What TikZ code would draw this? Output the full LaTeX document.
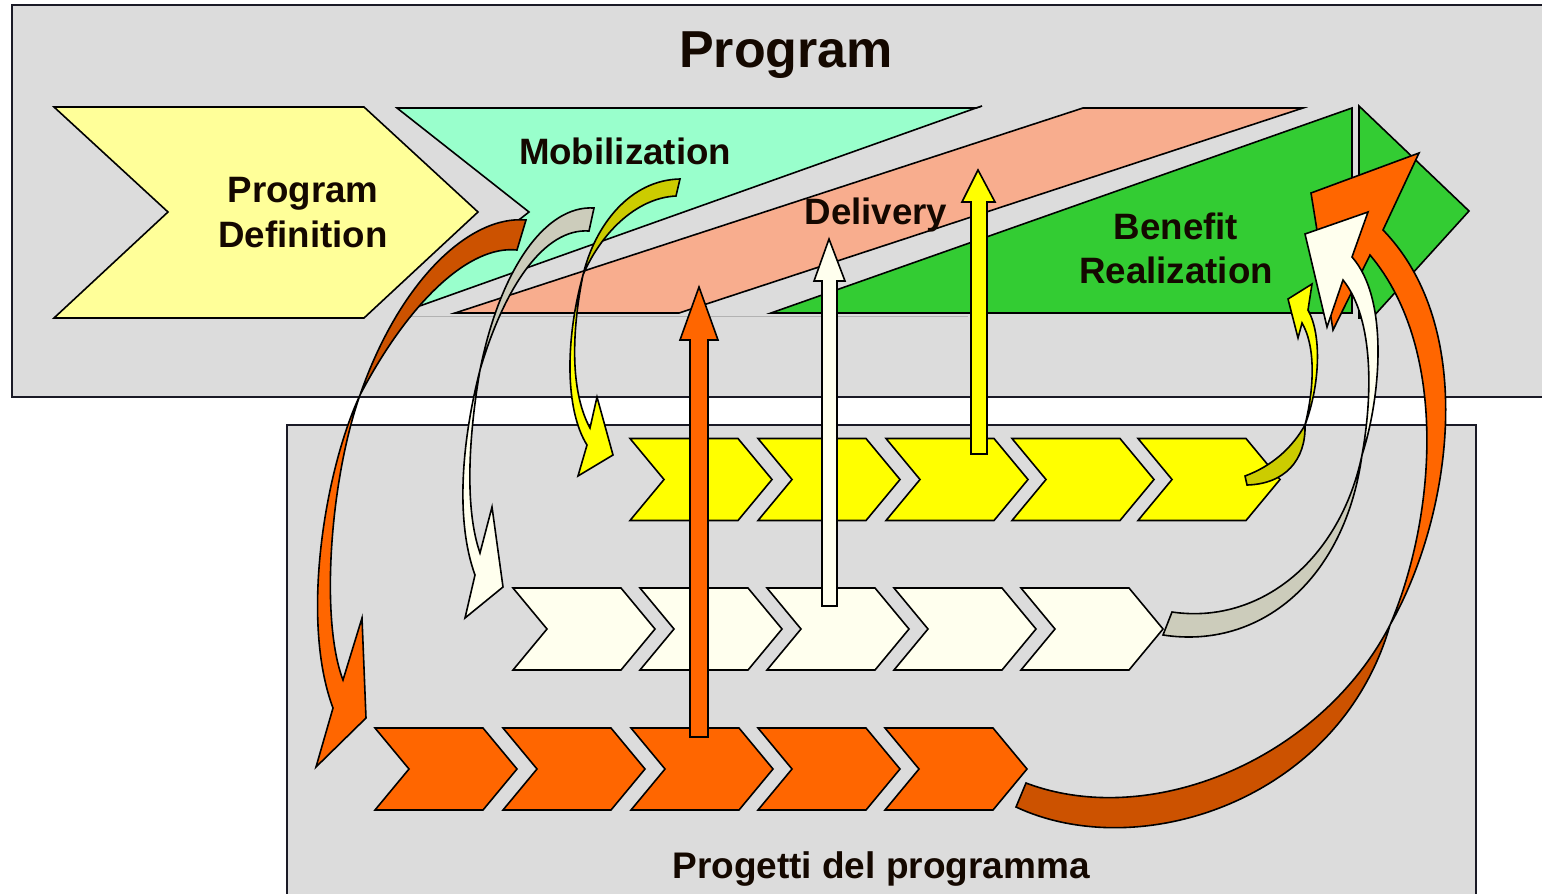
\documentclass[tikz,border=0pt]{standalone}
\usepackage{fontspec}
\setmainfont{Liberation Sans}
\definecolor{boxgray}{HTML}{DCDCDC}
\definecolor{boxline}{HTML}{1A1A26}
\definecolor{pdyellow}{HTML}{FFFF99}
\definecolor{mint}{HTML}{99FFCC}
\definecolor{salmon}{HTML}{F8AD8E}
\definecolor{brgreen}{HTML}{33CC33}
\definecolor{yel}{HTML}{FFFF00}
\definecolor{dyel}{HTML}{CCCC00}
\definecolor{offwhite}{HTML}{FFFFEE}
\definecolor{grayback}{HTML}{CCCCBB}
\definecolor{orng}{HTML}{FF6600}
\definecolor{dorng}{HTML}{CC5200}
\definecolor{txt}{HTML}{140800}
\newcommand{\mychev}[3]{\filldraw[fill=#3, bd] (#1,#2) -- ++(108,0) -- ++(34,41) -- ++(-34,41) -- ++(-108,0) -- ++(34,-41) -- cycle;}
\begin{document}
\begin{tikzpicture}[x=1pt,y=-1pt, line join=miter,
  bd/.style={draw=black, line width=1.6pt},
  lbl/.style={font=\fontsize{36.7}{44}\selectfont\bfseries, text=txt, anchor=base, inner sep=0pt},
  ttl/.style={font=\fontsize{52}{60}\selectfont\bfseries, text=txt, anchor=base, inner sep=0pt}]
\useasboundingbox (0,0) rectangle (1542,894);
\clip (0,0) rectangle (1542,894);
\fill[white] (0,0) rectangle (1542,894);
% boxes
\filldraw[fill=boxgray, draw=boxline, line width=1.8pt] (12,5) rectangle (1580,397);
\filldraw[fill=boxgray, draw=boxline, line width=1.8pt] (287,425) rectangle (1476,930);
\node[ttl] (title) at (786,67) {Program};
% phase chevrons
\filldraw[fill=pdyellow, bd] (54,107) -- (364,107) -- (478,212) -- (364,318) -- (54,318) -- (168,212) -- cycle;
\filldraw[fill=mint, bd] (397,108) -- (976,108) -- (400,313) -- (529,212) -- cycle;
\draw[bd] (976,108) -- (982,106);
\filldraw[fill=salmon, bd] (1083,108) -- (1303,108) -- (679,313) -- (455,313) -- cycle;
\filldraw[fill=brgreen, bd] (771,313) -- (1352,108) -- (1352,313) -- cycle;
\filldraw[fill=brgreen, bd] (1359,106) -- (1469,211) -- (1372,318) -- (1359,318) -- cycle;
\draw[gray!60, line width=1pt] (402,316.5) -- (968,316.5);
\node[lbl] (pd1) at (303,202) {Program};
\node[lbl] (pd2) at (303,247) {Definition};
\node[lbl] (mob) at (625,164) {Mobilization};
\node[lbl] (del) at (876,224) {Delivery};
\node[lbl] (ben1) at (1176,239) {Benefit};
\node[lbl] (ben2) at (1176,283) {Realization};
\node[lbl, font=\fontsize{37}{44}\selectfont\bfseries] (proj) at (881,878) {Progetti del programma};
% project rows
\foreach \x in {630,758,886,1012,1138} {\mychev{\x}{438.5}{yel}}
\foreach \x in {513,640,767,894,1021} {\mychev{\x}{588}{offwhite}}
\foreach \x in {375,503,631,758,885} {\mychev{\x}{728}{orng}}
% straight arrows
\filldraw[fill=orng, bd] (690,737) -- (690,340) -- (680,340) -- (699,287) -- (718,340) -- (708,340) -- (708,737) -- cycle;
\filldraw[fill=offwhite, bd] (822,606) -- (822,281) -- (814,281) -- (829,239) -- (845,281) -- (837,281) -- (837,606) -- cycle;
\filldraw[fill=yel, bd] (971,454) -- (971,202) -- (962,202) -- (978,170) -- (995,202) -- (987,202) -- (987,454) -- cycle;
% curved arrow: program definition -> orange row
\filldraw[fill=dorng, bd] (526,220) .. controls (470,215) and (400,280) .. (360,395) .. controls (410,300) and (470,245) .. (517,250) -- cycle;
\filldraw[fill=orng, bd] (360,395) .. controls (325,470) and (300,620) .. (333,708) -- (316,767) -- (366,718) -- (362,618) -- (343,680) .. controls (320,620) and (330,480) .. (360,395) -- cycle;
% curved arrow: mobilization -> white row
\filldraw[fill=grayback, bd] (594,208) .. controls (545,205) and (500,270) .. (480,370) .. controls (505,285) and (545,228) .. (589,231) -- cycle;
\filldraw[fill=offwhite, bd] (480,370) .. controls (462,440) and (455,520) .. (475,575) -- (465,618) -- (503,587) -- (492,507) -- (480,553) .. controls (465,510) and (468,440) .. (480,370) -- cycle;
% curved arrow: mobilization -> yellow row
\filldraw[fill=dyel, bd] (680,179) .. controls (630,180) and (595,225) .. (583,275) .. controls (600,235) and (635,198) .. (676,196) -- cycle;
\filldraw[fill=yel, bd] (583,275) .. controls (565,340) and (565,410) .. (587,445) -- (578,476) -- (613,455) -- (597,397) -- (590,428) .. controls (572,395) and (570,340) .. (583,275) -- cycle;
% curved arrow: orange row -> benefit
\filldraw[fill=dorng, bd] (1026,783) .. controls (1150,830) and (1320,760) .. (1390,625) .. controls (1340,800) and (1140,865) .. (1016,807) -- cycle;
\filldraw[fill=orng, bd] (1390,625) .. controls (1450,520) and (1480,330) .. (1383,230) -- (1419,153) -- (1311,193) -- (1333,330) -- (1370,255) .. controls (1450,350) and (1435,520) .. (1390,625) -- cycle;
% curved arrow: white row -> benefit
\filldraw[fill=grayback, bd] (1172,612) .. controls (1260,625) and (1340,560) .. (1362,455) .. controls (1345,580) and (1260,650) .. (1163,635) -- cycle;
\filldraw[fill=offwhite, bd] (1362,455) .. controls (1380,400) and (1390,300) .. (1352,257) -- (1368,212) -- (1305,234) -- (1327,327) -- (1343,280) .. controls (1375,320) and (1372,400) .. (1362,455) -- cycle;
% curved arrow: yellow row -> benefit
\filldraw[fill=dyel, bd] (1245,476) .. controls (1272,466) and (1292,448) .. (1305,425) .. controls (1306,460) and (1285,484) .. (1247,485) -- cycle;
\filldraw[fill=yel, bd] (1305,425) .. controls (1320,385) and (1322,335) .. (1308,310) -- (1312,284) -- (1288,299) -- (1298,338) -- (1302,323) .. controls (1315,345) and (1315,385) .. (1305,425) -- cycle;
\end{tikzpicture}
\end{document}
